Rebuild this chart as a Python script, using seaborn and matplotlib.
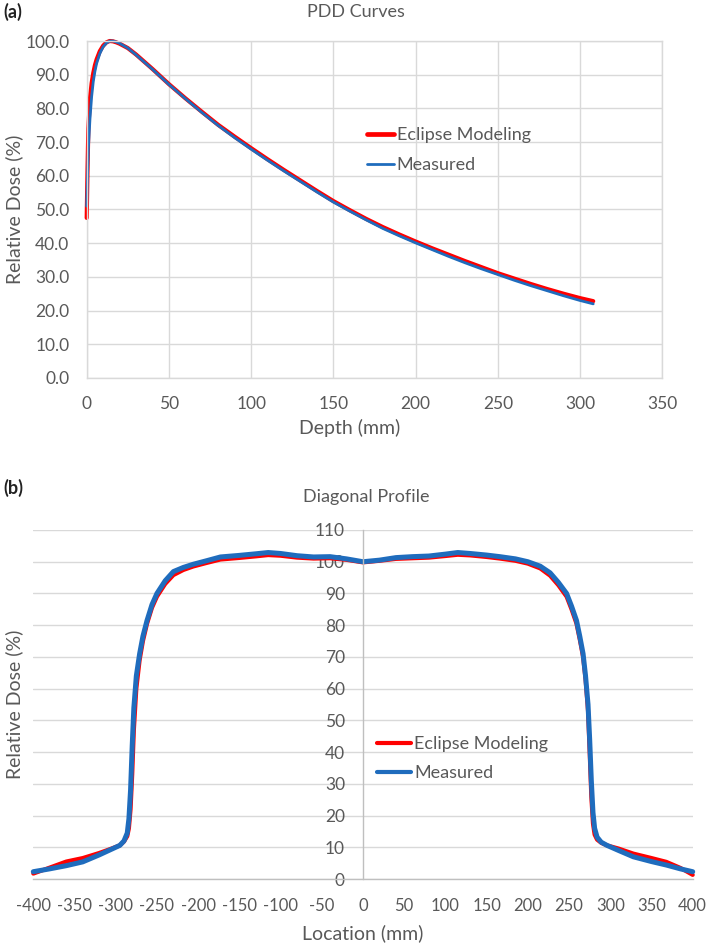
import matplotlib
matplotlib.use("Agg")
import matplotlib.pyplot as plt
import seaborn as sns
from matplotlib.lines import Line2D

# PDD curves (depth in mm, relative dose in %)
depth = [0, 0.5, 1, 2, 3, 4, 5, 6, 8, 10, 12, 14, 16, 18, 20, 25, 30, 40,
         50, 60, 70, 80, 90, 100, 110, 120, 130, 140, 150, 160, 170, 180,
         190, 200, 210, 220, 230, 240, 250, 260, 270, 280, 290, 300, 308]
pdd_eclipse = [47.5, 62.0, 74.0, 83.0, 87.5, 90.5, 92.8, 94.5, 97.0, 98.6,
               99.6, 100.0, 99.9, 99.6, 99.2, 97.9, 96.0, 91.7,
               87.2, 83.0, 79.0, 75.1, 71.6, 68.2, 64.9, 61.7, 58.6, 55.5,
               52.5, 49.8, 47.2, 44.8, 42.6, 40.5, 38.5, 36.6, 34.7, 32.9,
               31.1, 29.5, 27.9, 26.4, 25.0, 23.7, 22.8]
pdd_measured = [51.0, 60.0, 68.0, 77.0, 83.5, 88.0, 91.0, 93.3, 96.3, 98.3,
                99.4, 100.0, 100.0, 99.7, 99.3, 97.9, 95.9, 91.6,
                87.1, 82.9, 78.8, 74.9, 71.3, 67.9, 64.6, 61.4, 58.3, 55.2,
                52.2, 49.5, 46.9, 44.4, 42.2, 40.1, 38.1, 36.1, 34.2, 32.4,
                30.7, 29.0, 27.4, 25.9, 24.4, 23.0, 22.0]

# Diagonal profile (location in mm, relative dose in %)
location = [-400, -380, -360, -340, -320, -305, -295, -290, -286, -284, -282,
            -280, -278, -275, -271, -267, -262, -256, -250, -240, -230, -218,
            -206, -190, -173, -150, -130, -115, -100, -80, -60, -40, -20, 0,
            20, 40, 60, 80, 100, 115, 130, 150, 166, 185, 200, 215, 227, 237,
            247, 253, 259, 263, 267, 270, 273, 275, 277, 279, 281, 284, 289,
            296, 310, 328, 350, 368, 385, 400]
prof_eclipse = [1.7, 3.6, 5.5, 6.6, 8.2, 9.6, 10.6, 11.8, 13.5, 16.0, 22.0,
                33.0, 47.0, 60.0, 69.0, 75.0, 80.5, 85.5, 89.0, 93.0, 95.8, 97.4,
                98.5, 99.6, 100.7, 101.2, 101.7, 102.1, 101.9, 101.3, 101.0,
                101.1, 100.6, 99.8,
                100.3, 100.9, 101.1, 101.3, 101.8, 102.2, 102.0, 101.5, 101.0,
                100.3, 99.4, 97.9, 95.6, 92.6, 89.0, 85.0, 80.5, 75.5, 70.0,
                63.0, 53.0, 40.0, 26.0, 17.5, 14.0, 12.4, 11.4, 10.6, 9.6, 8.0,
                6.6, 5.4, 3.5, 1.3]
prof_measured = [2.3, 3.2, 4.2, 5.4, 7.6, 9.4, 10.6, 12.0, 14.5, 19.0, 28.0,
                 42.0, 54.0, 64.0, 71.0, 76.5, 81.5, 86.5, 90.0, 94.0, 96.9,
                 98.2, 99.2, 100.3, 101.5, 102.0, 102.5, 102.9, 102.6, 101.9,
                 101.5, 101.6, 100.9, 100.0,
                 100.5, 101.3, 101.6, 101.8, 102.4, 102.9, 102.6, 102.1, 101.6,
                 100.9, 100.0, 98.6, 96.5, 93.5, 90.0, 86.0, 81.5, 76.5, 71.0,
                 64.0, 55.0, 44.0, 31.0, 21.0, 16.0, 13.2, 11.6, 10.6, 9.0, 7.0,
                 5.5, 4.4, 3.2, 2.3]

pdd_ticks_x = list(range(0, 351, 50))
pdd_ticks_y = list(range(0, 101, 10))
prof_ticks_x = list(range(-400, 401, 50))
prof_ticks_y = list(range(0, 111, 10))

RED = "#ff0000"
BLUE = "#1f6cbd"
GRID = "#d9d9d9"
AXIS = "#bfbfbf"
TXT = "#595959"

sns.set_style("white")
plt.rcParams["font.family"] = ["Lato", "DejaVu Sans"]
plt.rcParams["axes.unicode_minus"] = False
plt.rcParams["text.color"] = TXT
plt.rcParams["axes.labelcolor"] = TXT
plt.rcParams["xtick.color"] = TXT
plt.rcParams["ytick.color"] = TXT

fig = plt.figure(figsize=(7.09, 9.44), dpi=100)
W, H = 709, 944

# ---------------- (a) PDD curves ----------------
ax1 = fig.add_axes([86.7 / W, 1 - 378 / H, 575.6 / W, 337 / H])
sns.lineplot(x=depth, y=pdd_eclipse, ax=ax1, color=RED, linewidth=3.0,
             sort=False, estimator=None)
sns.lineplot(x=depth, y=pdd_measured, ax=ax1, color=BLUE, linewidth=2.0,
             sort=False, estimator=None)
for ln in ax1.lines:
    ln.set_clip_on(False)
ax1.set_xlim(0, 350)
ax1.set_ylim(0, 100)
ax1.set_xticks(pdd_ticks_x)
ax1.set_yticks(pdd_ticks_y)
ax1.set_yticklabels([f"{v:.1f}" for v in pdd_ticks_y])
ax1.grid(True, color=GRID, linewidth=1.0)
ax1.set_axisbelow(True)
for sp in ax1.spines.values():
    sp.set_color(GRID)
    sp.set_linewidth(1.0)
ax1.tick_params(axis="x", length=0, pad=13, labelsize=12.5)
ax1.tick_params(axis="y", length=0, pad=12.5, labelsize=12.5)
ax1.set_xlabel("Depth (mm)", fontsize=14)
ax1.xaxis.label.set_va("center")
ax1.xaxis.set_label_coords((350 - 86.7) / 575.6, (378 - 428) / 337)
ax1.set_ylabel("Relative Dose (%)", fontsize=14)
ax1.yaxis.label.set_va("center")
ax1.yaxis.set_label_coords((14 - 86.7) / 575.6, 0.5)

leg1 = [Line2D([], [], color=RED, linewidth=3.4),
        Line2D([], [], color=BLUE, linewidth=2.0)]
ax1.legend(leg1, ["Eclipse Modeling", "Measured"], loc="center left",
           bbox_to_anchor=(367 / W, 1 - 150 / H), bbox_transform=fig.transFigure,
           frameon=False, fontsize=13, handlelength=1.5, handletextpad=0.15,
           labelspacing=0.77, borderpad=0, borderaxespad=0)

fig.text(356 / W, 1 - 12 / H, "PDD Curves", ha="center", va="center", fontsize=13)
fig.text(3 / W, 1 - 12 / H, "(a)", ha="left", va="center", fontsize=13,
         fontweight="bold", color="#222222")

# ---------------- (b) Diagonal profile ----------------
ax2 = fig.add_axes([33.3 / W, 1 - 879 / H, 659.4 / W, 349 / H])
sns.lineplot(x=location, y=prof_eclipse, ax=ax2, color=RED, linewidth=3.0,
             sort=False, estimator=None)
sns.lineplot(x=location, y=prof_measured, ax=ax2, color=BLUE, linewidth=3.6,
             sort=False, estimator=None)
for ln in ax2.lines:
    ln.set_clip_on(False)
ax2.set_xlim(-400, 400)
ax2.set_ylim(0, 110)
ax2.set_xticks(prof_ticks_x)
ax2.set_yticks(prof_ticks_y)
ax2.grid(True, axis="y", color=GRID, linewidth=1.0)
ax2.grid(False, axis="x")
for gl in ax2.get_ygridlines():
    gl.set_clip_on(False)
ax2.set_axisbelow(True)
ax2.spines["top"].set_visible(False)
ax2.spines["right"].set_visible(False)
ax2.spines["left"].set_position(("data", 0))
ax2.spines["left"].set_color(AXIS)
ax2.spines["bottom"].set_color(AXIS)
ax2.spines["left"].set_linewidth(1.0)
ax2.spines["bottom"].set_linewidth(1.0)
ax2.tick_params(axis="x", length=0, pad=13.5, labelsize=12)
ax2.tick_params(axis="y", length=0, pad=13, labelsize=12.5)
ax2.set_xlabel("Location (mm)", fontsize=14)
ax2.xaxis.label.set_va("center")
ax2.xaxis.set_label_coords(0.5, (879 - 933) / 349)
ax2.set_ylabel("Relative Dose (%)", fontsize=14)
ax2.yaxis.label.set_va("center")
ax2.yaxis.set_label_coords((14 - 33.3) / 659.4, 0.5)

leg2 = [Line2D([], [], color=RED, linewidth=3.0),
        Line2D([], [], color=BLUE, linewidth=3.0)]
ax2.legend(leg2, ["Eclipse Modeling", "Measured"], loc="center left",
           bbox_to_anchor=(377 / W, 1 - 759 / H), bbox_transform=fig.transFigure,
           frameon=False, fontsize=13, handlelength=1.9, handletextpad=0.15,
           labelspacing=0.72, borderpad=0, borderaxespad=0)

fig.text(366 / W, 1 - 497 / H, "Diagonal Profile", ha="center", va="center",
         fontsize=13)
fig.text(3 / W, 1 - 488 / H, "(b)", ha="left", va="center", fontsize=13,
         fontweight="bold", color="#222222")

fig.savefig("out.png", dpi=100, facecolor="white")
